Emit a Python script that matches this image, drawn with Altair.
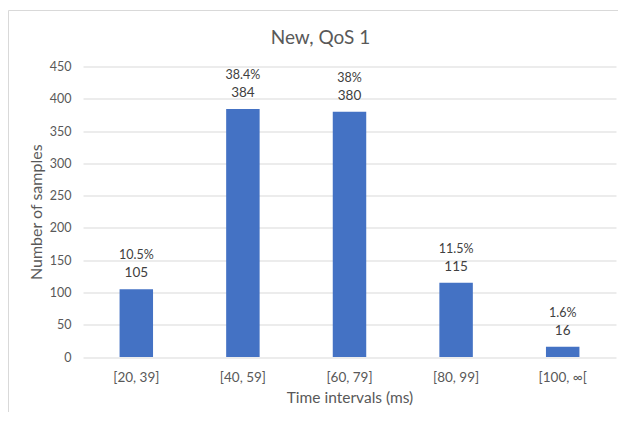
import altair as alt
import pandas as pd

categories = ["[20, 39]", "[40, 59]", "[60, 79]", "[80, 99]", "[100, ∞["]
samples = [105, 384, 380, 115, 16]
percents = ["10.5%", "38.4%", "38%", "11.5%", "1.6%"]

df = pd.DataFrame({"interval": categories, "samples": samples, "pct": percents})

FONT = "Lato"
AXIS_GREY = "#595959"
LABEL_GREY = "#404040"

x = alt.X("interval:N", sort=categories, title="Time intervals (ms)",
          scale=alt.Scale(paddingInner=0.686, paddingOuter=0.343),
          axis=alt.Axis(labelAngle=0, domain=False, ticks=False, labelPadding=13,
                        labelFontSize=13.5, labelColor=AXIS_GREY, titleFontSize=15.5,
                        titleColor=AXIS_GREY, titleFontWeight="normal", titlePadding=7,
                        labelFont=FONT, titleFont=FONT))
y = alt.Y("samples:Q", title="Number of samples",
          scale=alt.Scale(domain=[0, 450], nice=False),
          axis=alt.Axis(values=list(range(0, 451, 50)), domain=False, ticks=False,
                        labelPadding=12, labelFontSize=12.5, labelColor=AXIS_GREY,
                        labelOverlap=False,
                        titleFontSize=16, titleColor=AXIS_GREY, titleFontWeight="normal",
                        titlePadding=5, gridColor="#d9d9d9", labelFont=FONT, titleFont=FONT))

base = alt.Chart(df)

frame = base.mark_rect(fill=None, stroke="#d9d9d9", strokeWidth=1).encode(
    x=alt.value(-74.5), x2=alt.value(700), y=alt.value(-56), y2=alt.value(500)
).transform_filter(alt.datum.interval == categories[0])

bars = base.mark_bar(color="#4472C4").encode(x=x, y=y)

values = base.mark_text(baseline="bottom", dy=-9, fontSize=13.5, color=LABEL_GREY, font=FONT).encode(
    x=x, y=y, text="samples:Q")

pcts = base.mark_text(baseline="bottom", dy=-27, fontSize=12.5, color=LABEL_GREY, font=FONT).encode(
    x=x, y=y, text="pct:N")

chart = alt.layer(bars, values, pcts, frame).properties(
    width=533, height=290.5,
    title=alt.TitleParams("New, QoS 1", fontSize=19, font=FONT, color=AXIS_GREY,
                          fontWeight="normal", anchor="middle", frame="group",
                          offset=-38, dx=-29),
    autosize=alt.AutoSizeParams(type="none"),
    padding={"left": 75, "top": 58.5, "right": 2, "bottom": 55},
).configure_view(stroke=None)

chart.save("out.html", embed_options={"renderer": "svg", "actions": False})
